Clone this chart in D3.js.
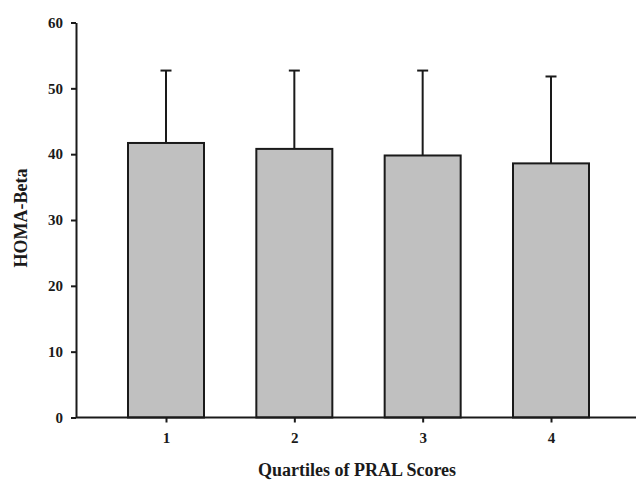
<!DOCTYPE html>
<html>
<head>
<meta charset="utf-8">
<script src="https://cdn.jsdelivr.net/npm/d3@7"></script>
<style>
	body { margin: 0; background: #fff; }
	text { font-family: "Liberation Serif", "Times New Roman", serif; font-weight: bold; fill: #1a1a1a; }
</style>
</head>
<body>
<div class="wrapper"></div>
<script>
// values
var quartiles = ["1", "2", "3", "4"];
var homaBeta = [41.7, 40.8, 39.8, 38.6];
var errUpper = [52.7, 52.7, 52.7, 51.8];
var yTicks = [0, 10, 20, 30, 40, 50, 60];

var WIDTH = 636,
	HEIGHT = 481,
	AXIS_X = 76,
	BAR_W = 76,
	CAP_W = 11;

var svg = d3.select(".wrapper")
	.append("svg")
		.attr("width", WIDTH)
		.attr("height", HEIGHT);

var y = d3.scaleLinear()
	.domain([0, 60])
	.range([417.5, 22.5]);

var x = d3.scalePoint()
	.domain(quartiles)
	.range([166, 551]);

// bars
svg.selectAll("rect.bar")
	.data(homaBeta)
	.enter()
	.append("rect")
		.attr("class", "bar")
		.attr("x", function(d, i) { return x(quartiles[i]) - BAR_W / 2; })
		.attr("y", function(d) { return y(d); })
		.attr("width", BAR_W)
		.attr("height", function(d) { return y(0) - y(d); })
		.attr("fill", "#c0c0c0")
		.attr("stroke", "#1a1a1a")
		.attr("stroke-width", 2);

// error bars (upper only)
var err = svg.selectAll("g.err")
	.data(errUpper)
	.enter()
	.append("g")
		.attr("class", "err")
		.attr("stroke", "#1a1a1a")
		.attr("stroke-width", 2);

err.append("line")
	.attr("x1", function(d, i) { return x(quartiles[i]); })
	.attr("x2", function(d, i) { return x(quartiles[i]); })
	.attr("y1", function(d, i) { return y(homaBeta[i]); })
	.attr("y2", function(d) { return y(d); });

err.append("line")
	.attr("x1", function(d, i) { return x(quartiles[i]) - CAP_W / 2; })
	.attr("x2", function(d, i) { return x(quartiles[i]) + CAP_W / 2; })
	.attr("y1", function(d) { return y(d); })
	.attr("y2", function(d) { return y(d); });

// y axis
var yAxis = svg.append("g")
	.attr("transform", "translate(" + AXIS_X + ",0)")
	.call(d3.axisLeft(y).tickValues(yTicks).tickSize(5).tickSizeOuter(0).tickPadding(8));

// x axis
var xAxis = svg.append("g")
	.attr("transform", "translate(0," + y(0) + ")")
	.call(d3.axisBottom(x).tickSize(5).tickSizeOuter(0).tickPadding(10));

xAxis.select(".domain").attr("d", "M" + AXIS_X + ",0H" + WIDTH);

svg.selectAll(".domain, .tick line")
	.attr("stroke", "#1a1a1a")
	.attr("stroke-width", 2);

svg.selectAll(".tick text")
	.attr("font-size", 15)
	.attr("fill", "#1a1a1a");

// axis titles
svg.append("text")
	.attr("transform", "translate(27,218) rotate(-90)")
	.attr("text-anchor", "middle")
	.attr("font-size", 18)
	.text("HOMA-Beta");

svg.append("text")
	.attr("x", 357)
	.attr("y", 476)
	.attr("text-anchor", "middle")
	.attr("font-size", 18)
	.text("Quartiles of PRAL Scores");
</script>
</body>
</html>
